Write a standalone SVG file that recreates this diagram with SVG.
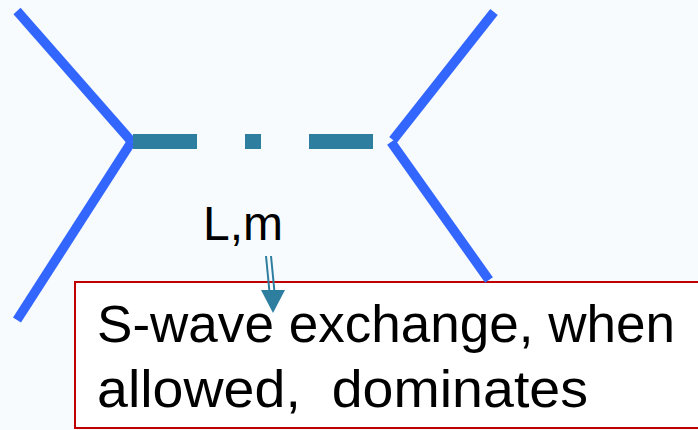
<svg xmlns="http://www.w3.org/2000/svg" width="698" height="430" viewBox="0 0 698 430">
<style>
.leg{fill:none;stroke:#3366ff;stroke-width:9.5;stroke-linecap:butt}
.prop{stroke:#2e7ea0;stroke-width:15}
.t{font-family:"Liberation Sans",Arial,sans-serif;fill:#000}
.arr{stroke:#2e7ea0;stroke-width:2;fill:none}
</style>
<rect width="698" height="430" fill="#f7fbfd"/>
<g id="box">
<rect x="75" y="282" width="640" height="146" fill="#ffffff" stroke="#c00000" stroke-width="2"/>
<text class="t" x="97" y="342" font-size="51" textLength="578" lengthAdjust="spacingAndGlyphs">S-wave exchange, when</text>
<text class="t" x="97" y="407" font-size="51" xml:space="preserve" textLength="491" lengthAdjust="spacingAndGlyphs">allowed,  dominates</text>
</g>
<g id="left-vertex">
<line class="leg" x1="17" y1="11" x2="132" y2="142"/>
<line class="leg" x1="132" y1="141" x2="17" y2="320"/>
</g>
<g id="right-vertex">
<line class="leg" x1="494" y1="12" x2="393" y2="140"/>
<line class="leg" x1="391" y1="142" x2="489" y2="280"/>
</g>
<g id="propagator">
<line class="prop" x1="133" y1="141.5" x2="197" y2="141.5"/>
<line class="prop" x1="245" y1="141.5" x2="261" y2="141.5"/>
<line class="prop" x1="309" y1="141.5" x2="373" y2="141.5"/>
</g>
<g id="label"><text class="t" x="203" y="240" font-size="48" textLength="80" lengthAdjust="spacingAndGlyphs">L,m</text></g>
<g id="connectors">
<line class="arr" x1="266" y1="256" x2="269.5" y2="292"/>
<line class="arr" x1="271" y1="256" x2="274.5" y2="292"/>
<polygon points="261,290 285,290 273,313" fill="#2e7ea0"/>
</g>
</svg>
